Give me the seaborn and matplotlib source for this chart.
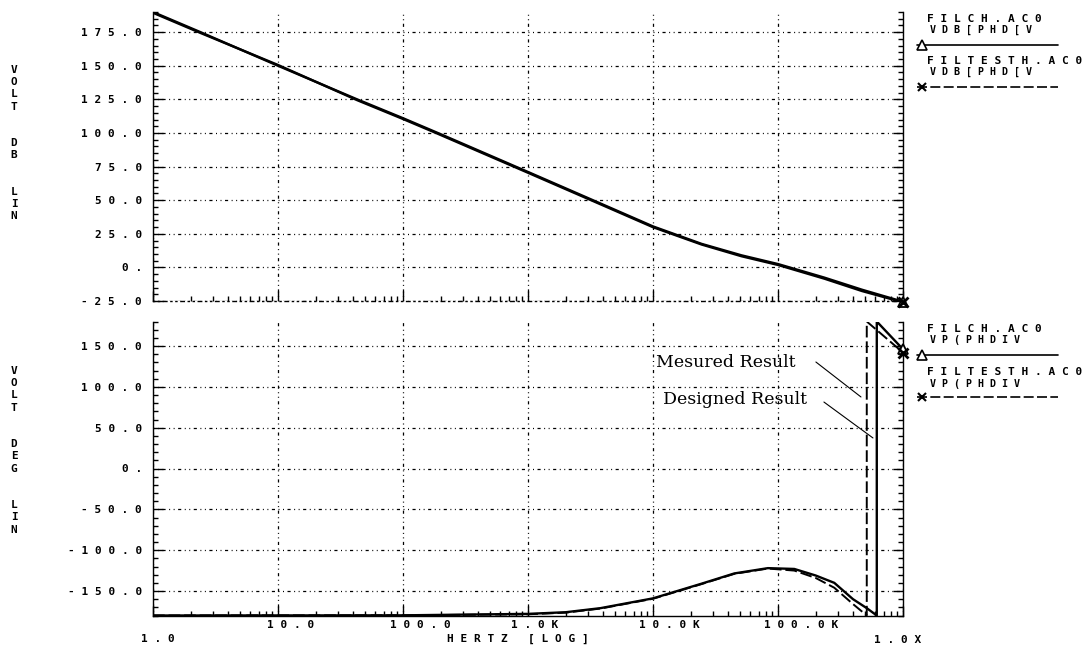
import matplotlib
matplotlib.use("Agg")
import matplotlib.pyplot as plt
import matplotlib.transforms as mtransforms
from matplotlib.lines import Line2D
from matplotlib.ticker import FixedLocator, MultipleLocator, LogLocator, NullFormatter
import seaborn as sns

# ---- magnitude response, dB vs Hz ----
freq_db = [1, 2.4, 10, 43, 100, 190, 1e3, 3.6e3, 1e4, 2.45e4, 5.1e4, 1e5, 2.35e5, 4.7e5, 1e6]
db_designed = [190, 175, 150, 125, 111, 100, 71, 48.5, 30.5, 17.5, 9, 2.5, -7.6, -16.6, -25.5]
db_measured = [189.4, 174.4, 150.6, 124.4, 110.4, 99.4, 70.4, 47.9, 29.9, 17.0, 8.3, 1.8, -8.4, -17.6, -26.0]

# ---- phase response, degrees vs Hz (the repeated frequency is the -180/+180 wrap) ----
freq_ph_designed = [1, 100, 1e3, 2e3, 3.8e3, 1e4, 2.45e4, 4.47e4, 8.3e4, 1.35e5, 2e5, 2.82e5,
                    3.98e5, 5.13e5, 6.17e5, 6.17e5, 1e6]
ph_designed = [-180, -179.8, -178, -176, -171, -159, -141, -128.5, -122, -123, -131, -140,
               -160, -171, -180, 180, 146]
freq_ph_measured = [1, 100, 1e3, 2e3, 3.8e3, 1e4, 2.45e4, 4.47e4, 8.3e4, 1.35e5, 2e5, 2.82e5,
                    3.98e5, 5.13e5, 5.13e5, 1e6]
ph_measured = [-180, -179.8, -178.5, -176.5, -171.5, -159.5, -141.5, -129, -122.5, -125, -134,
               -146, -166, -180, 180, 142]

# ---- axis text ----
x_ticks = [1, 10, 100, 1e3, 1e4, 1e5, 1e6]
x_labels = ["1.0", "10.0", "100.0", "1.0K", "10.0K", "100.0K", "1.0X"]
db_ticks = [-25, 0, 25, 50, 75, 100, 125, 150, 175]
db_labels = ["-25.0", "0.", "25.0", "50.0", "75.0", "100.0", "125.0", "150.0", "175.0"]
ph_ticks = [-150, -100, -50, 0, 50, 100, 150]
ph_labels = ["-150.0", "-100.0", "-50.0", "0.", "50.0", "100.0", "150.0"]
x_title = "HERTZ [LOG]"
db_title = ["V", "O", "L", "T", "", "", "D", "B", "", "", "L", "I", "N"]
ph_title = ["V", "O", "L", "T", "", "", "D", "E", "G", "", "", "L", "I", "N"]
legend_db = [("FILCH.AC0", "VDB[PHD[V"), ("FILTESTH.AC0", "VDB[PHD[V")]
legend_ph = [("FILCH.AC0", "VP(PHDIV"), ("FILTESTH.AC0", "VP(PHDIV")]
note_measured = "Mesured Result"
note_designed = "Designed Result"

sns.set_style("white")
plt.rcParams["font.family"] = ["DejaVu Sans Mono"]
plt.rcParams["font.weight"] = "bold"
for key in ("text.color", "axes.labelcolor", "xtick.color", "ytick.color", "axes.edgecolor"):
    plt.rcParams[key] = "black"
plt.rcParams["axes.linewidth"] = 1.0

W, H = 1085, 653
fig = plt.figure(figsize=(W / 100, H / 100), dpi=100)


def box(x0, y0, x1, y1):
    return [x0 / W, 1 - y1 / H, (x1 - x0) / W, (y1 - y0) / H]


def spaced(s):
    return " ".join(s)


GRID = (0, (0.8, 2.8, 0.8, 2.8, 2.5, 2.8))
SOLID = dict(color="black", lw=1.7)
DASHED = dict(color="black", lw=1.4, dashes=(6, 2))

ax_db = fig.add_axes(box(153, 12, 903, 301))
ax_ph = fig.add_axes(box(153, 321.5, 903, 615.5))

for ax in (ax_db, ax_ph):
    ax.set_xscale("log")
    ax.set_xlim(1, 1e6)
    ax.set_facecolor("white")
    ax.spines["top"].set_visible(False)
    for s in ("left", "right", "bottom"):
        ax.spines[s].set_color("black")
    ax.xaxis.set_major_locator(FixedLocator(x_ticks))
    ax.xaxis.set_minor_locator(LogLocator(base=10, subs=range(2, 10), numticks=20))
    ax.xaxis.set_minor_formatter(NullFormatter())
    ax.tick_params(axis="both", which="both", direction="in", color="black",
                   left=True, right=True, bottom=True, top=False, labelright=False)
    ax.tick_params(axis="both", which="major", length=7, width=1)
    ax.tick_params(axis="both", which="minor", length=3.5, width=1)
    ax.grid(True, which="major", color="black", lw=0.9, linestyle=GRID)

# ---- magnitude panel ----
sns.lineplot(x=freq_db, y=db_designed, ax=ax_db, estimator=None, sort=False, **SOLID)
sns.lineplot(x=freq_db, y=db_measured, ax=ax_db, estimator=None, sort=False, **SOLID)
ax_db.set_ylim(-25, 190)
ax_db.yaxis.set_major_locator(FixedLocator(db_ticks))
ax_db.yaxis.set_minor_locator(MultipleLocator(5))
ax_db.set_yticklabels([spaced(t) for t in db_labels], fontsize=8)
ax_db.tick_params(axis="y", pad=8)
ax_db.set_xticklabels([])
ax_db.spines["bottom"].set_linestyle(GRID)
ax_db.plot(freq_db[-1], db_designed[-1], marker="^", ms=7, mfc="white", mec="black",
           mew=1.3, clip_on=False, zorder=5)
ax_db.plot(freq_db[-1], db_measured[-1], marker="x", ms=7, mec="black", mew=2,
           clip_on=False, zorder=5)

# ---- phase panel ----
sns.lineplot(x=freq_ph_designed, y=ph_designed, ax=ax_ph, estimator=None, sort=False, **SOLID)
sns.lineplot(x=freq_ph_measured, y=ph_measured, ax=ax_ph, estimator=None, sort=False, **DASHED)
ax_ph.set_ylim(-180, 180)
ax_ph.yaxis.set_major_locator(FixedLocator(ph_ticks))
ax_ph.yaxis.set_minor_locator(MultipleLocator(10))
ax_ph.set_yticklabels([spaced(t) for t in ph_labels], fontsize=8)
ax_ph.tick_params(axis="y", pad=8)
ax_ph.set_xticklabels([spaced(t) for t in x_labels], fontsize=8)
ax_ph.tick_params(axis="x", pad=3)
ax_ph.plot(freq_ph_designed[-1], ph_designed[-1], marker="^", ms=7, mfc="white", mec="black",
           mew=1.3, clip_on=False, zorder=5)
ax_ph.plot(freq_ph_measured[-1], ph_measured[-1], marker="x", ms=7, mec="black", mew=2,
           clip_on=False, zorder=5)

# shift the frequency labels the way the plotter lays them out (pixels)
label_shift = [(5, -14), (13, 0), (17, 0), (7, 0), (16, 0), (23, 0), (-5, -15)]
for lab, (dx, dy) in zip(ax_ph.get_xticklabels(), label_shift):
    lab.set_transform(lab.get_transform() +
                      mtransforms.ScaledTranslation(dx / 100, dy / 100, fig.dpi_scale_trans))

fig.text(518 / W, 1 - 639 / H, spaced(x_title), fontsize=8, ha="center", va="center")

# stacked axis titles
for i, ch in enumerate(db_title):
    if ch:
        fig.text(14 / W, 1 - (70 + 12.2 * i) / H, ch, fontsize=8, ha="center", va="center")
for i, ch in enumerate(ph_title):
    if ch:
        fig.text(14 / W, 1 - (371 + 12.2 * i) / H, ch, fontsize=8, ha="center", va="center")


# trace legends on the right
def trace_legend(entries, y_rows):
    for (name, expr), (y_name, y_expr, y_line), style, mk in zip(
            entries, y_rows, (SOLID, DASHED), ("^", "x")):
        fig.text(927 / W, 1 - y_name / H, spaced(name), fontsize=8, va="center", ha="left")
        fig.text(930 / W, 1 - y_expr / H, spaced(expr), fontsize=7.2, va="center", ha="left")
        kw = dict(style)
        kw["lw"] = 1.2
        fig.add_artist(Line2D([917 / W, 1058 / W], [1 - y_line / H] * 2,
                              transform=fig.transFigure, **kw))
        if mk == "^":
            fig.add_artist(Line2D([922 / W], [1 - y_line / H], marker="^", ms=7, mfc="white",
                                  mec="black", mew=1.2, transform=fig.transFigure))
        else:
            fig.add_artist(Line2D([922 / W], [1 - y_line / H], marker="x", ms=6, mec="black",
                                  mew=1.5, transform=fig.transFigure))


trace_legend(legend_db, [(19, 30, 45), (61, 72, 87)])
trace_legend(legend_ph, [(329, 340, 355), (372, 384, 397)])

# callouts in the phase panel
ax_ph.text(1.05e4, 130, note_measured, family="DejaVu Serif", fontweight="normal",
           fontsize=12.5, ha="left", va="center")
ax_ph.text(1.2e4, 84, note_designed, family="DejaVu Serif", fontweight="normal",
           fontsize=12.5, ha="left", va="center")
ax_ph.plot([2.01e5, 4.61e5], [130.4, 87.6], color="black", lw=0.8)
ax_ph.plot([2.33e5, 5.75e5], [81.4, 37.4], color="black", lw=0.8)

fig.savefig("out.png", dpi=100, facecolor="white")
